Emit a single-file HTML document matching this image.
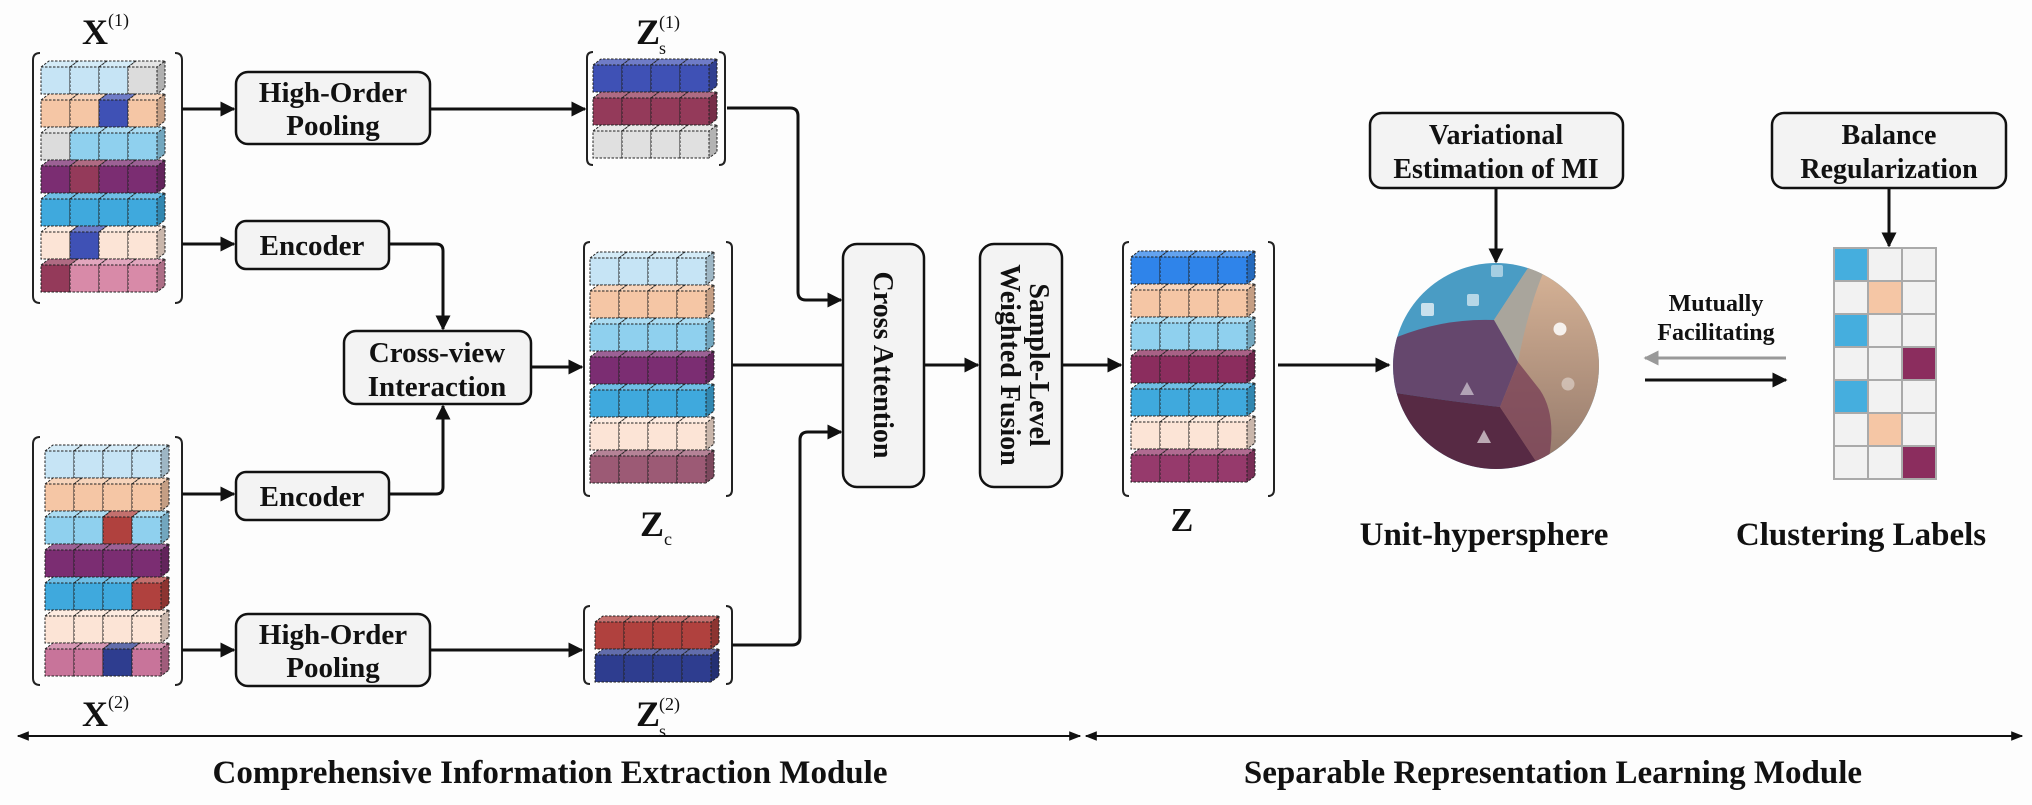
<!DOCTYPE html>
<html><head><meta charset="utf-8"><style>
html,body{margin:0;padding:0;background:#fdfdfd}
svg{display:block}
text{font-family:"Liberation Serif",serif;font-weight:bold;fill:#111}
text.n{font-weight:normal}
.box{fill:#f3f3f3;stroke:#111;stroke-width:2.5}
.ln{fill:none;stroke:#111;stroke-width:3}
.br{fill:none;stroke:#222;stroke-width:2}
</style></head><body>
<svg width="2032" height="805" viewBox="0 0 2032 805" xmlns="http://www.w3.org/2000/svg">
<defs>
<marker id="ah" viewBox="0 0 10 10" refX="9" refY="5" markerWidth="5" markerHeight="5" orient="auto" markerUnits="strokeWidth"><path d="M0,0 L10,5 L0,10 z" fill="#111"/></marker>
<marker id="ahg" viewBox="0 0 10 10" refX="9" refY="5" markerWidth="5" markerHeight="5" orient="auto" markerUnits="strokeWidth"><path d="M0,0 L10,5 L0,10 z" fill="#999"/></marker>
<marker id="ahs" viewBox="0 0 10 10" refX="9" refY="5" markerWidth="6" markerHeight="6" orient="auto" markerUnits="strokeWidth"><path d="M0,1 L10,5 L0,9 z" fill="#111"/></marker>
<g id="c">
<rect x="0" y="0" width="29" height="27" fill="currentColor"/>
<polygon points="0,0 8,-6 37,-6 29,0" fill="currentColor"/>
<polygon points="0,0 8,-6 37,-6 29,0" fill="#fff" opacity="0.25"/>
<polygon points="29,0 37,-6 37,21 29,27" fill="currentColor"/>
<polygon points="29,0 37,-6 37,21 29,27" fill="#000" opacity="0.2"/>
<path d="M0,0 H29 V27 H0 Z M0,0 L8,-6 H37 L29,0 M37,-6 V21 L29,27" fill="none" stroke="#222" stroke-width="1" stroke-dasharray="2.5,1.5"/>
</g>
</defs>

<text x="82" y="44" font-size="36">X</text><text class="n" x="108" y="26" font-size="18">(1)</text>
<text x="636" y="44" font-size="36">Z</text><text class="n" x="659" y="54" font-size="18">s</text><text class="n" x="659" y="28" font-size="18">(1)</text>

<path class="br" d="M40,53 Q33,53 33,60 V296 Q33,303 40,303 M175,53 Q182,53 182,60 V296 Q182,303 175,303"/>
<g transform="translate(41,67)">
<g color="#c6e4f5"><use href="#c" x="0" y="0"/><use href="#c" x="29" y="0"/><use href="#c" x="58" y="0"/></g><use href="#c" x="87" y="0" color="#dcdcdc"/>
<use href="#c" x="0" y="33" color="#f5c6a5"/><use href="#c" x="29" y="33" color="#f5c6a5"/><use href="#c" x="58" y="33" color="#3f51b5"/><use href="#c" x="87" y="33" color="#f5c6a5"/>
<use href="#c" x="0" y="66" color="#dcdcdc"/><g color="#8fd0ee"><use href="#c" x="29" y="66"/><use href="#c" x="58" y="66"/><use href="#c" x="87" y="66"/></g>
<use href="#c" x="0" y="99" color="#7b2d72"/><use href="#c" x="29" y="99" color="#943a5a"/><use href="#c" x="58" y="99" color="#7b2d72"/><use href="#c" x="87" y="99" color="#7b2d72"/>
<g color="#3fa9dd"><use href="#c" x="0" y="132"/><use href="#c" x="29" y="132"/><use href="#c" x="58" y="132"/><use href="#c" x="87" y="132"/></g>
<use href="#c" x="0" y="165" color="#fce4d6"/><use href="#c" x="29" y="165" color="#3f51b5"/><use href="#c" x="58" y="165" color="#fce4d6"/><use href="#c" x="87" y="165" color="#fce4d6"/>
<use href="#c" x="0" y="198" color="#943a5a"/><g color="#d88aa8"><use href="#c" x="29" y="198"/><use href="#c" x="58" y="198"/><use href="#c" x="87" y="198"/></g>
</g>

<path class="br" d="M40,437 Q33,437 33,444 V678 Q33,685 40,685 M175,437 Q182,437 182,444 V678 Q182,685 175,685"/>
<g transform="translate(45,451)">
<g color="#c6e4f5"><use href="#c" x="0" y="0"/><use href="#c" x="29" y="0"/><use href="#c" x="58" y="0"/><use href="#c" x="87" y="0"/></g>
<g color="#f5c6a5"><use href="#c" x="0" y="33"/><use href="#c" x="29" y="33"/><use href="#c" x="58" y="33"/><use href="#c" x="87" y="33"/></g>
<use href="#c" x="0" y="66" color="#8fd0ee"/><use href="#c" x="29" y="66" color="#8fd0ee"/><use href="#c" x="58" y="66" color="#b0413e"/><use href="#c" x="87" y="66" color="#8fd0ee"/>
<g color="#7b2d72"><use href="#c" x="0" y="99"/><use href="#c" x="29" y="99"/><use href="#c" x="58" y="99"/><use href="#c" x="87" y="99"/></g>
<use href="#c" x="0" y="132" color="#3fa9dd"/><use href="#c" x="29" y="132" color="#3fa9dd"/><use href="#c" x="58" y="132" color="#3fa9dd"/><use href="#c" x="87" y="132" color="#b0413e"/>
<g color="#fce4d6"><use href="#c" x="0" y="165"/><use href="#c" x="29" y="165"/><use href="#c" x="58" y="165"/><use href="#c" x="87" y="165"/></g>
<use href="#c" x="0" y="198" color="#c8749a"/><use href="#c" x="29" y="198" color="#c8749a"/><use href="#c" x="58" y="198" color="#2e3d8f"/><use href="#c" x="87" y="198" color="#c8749a"/>
</g>
<text x="82" y="726" font-size="36">X</text><text class="n" x="108" y="708" font-size="18">(2)</text>

<path class="br" d="M593,52 Q587,52 587,58 V159 Q587,165 593,165 M719,52 Q725,52 725,58 V159 Q725,165 719,165"/>
<g transform="translate(593,65)">
<g color="#3f51b5"><use href="#c" x="0" y="0"/><use href="#c" x="29" y="0"/><use href="#c" x="58" y="0"/><use href="#c" x="87" y="0"/></g>
<g color="#943a5a"><use href="#c" x="0" y="33"/><use href="#c" x="29" y="33"/><use href="#c" x="58" y="33"/><use href="#c" x="87" y="33"/></g>
<g color="#e0e0e0"><use href="#c" x="0" y="66"/><use href="#c" x="29" y="66"/><use href="#c" x="58" y="66"/><use href="#c" x="87" y="66"/></g>
</g>

<path class="br" d="M590,242 Q584,242 584,248 V490 Q584,496 590,496 M726,242 Q732,242 732,248 V490 Q732,496 726,496"/>
<g transform="translate(590,258)">
<g color="#c6e4f5"><use href="#c" x="0" y="0"/><use href="#c" x="29" y="0"/><use href="#c" x="58" y="0"/><use href="#c" x="87" y="0"/></g>
<g color="#f5c6a5"><use href="#c" x="0" y="33"/><use href="#c" x="29" y="33"/><use href="#c" x="58" y="33"/><use href="#c" x="87" y="33"/></g>
<g color="#8fd0ee"><use href="#c" x="0" y="66"/><use href="#c" x="29" y="66"/><use href="#c" x="58" y="66"/><use href="#c" x="87" y="66"/></g>
<g color="#7b2d72"><use href="#c" x="0" y="99"/><use href="#c" x="29" y="99"/><use href="#c" x="58" y="99"/><use href="#c" x="87" y="99"/></g>
<g color="#3fa9dd"><use href="#c" x="0" y="132"/><use href="#c" x="29" y="132"/><use href="#c" x="58" y="132"/><use href="#c" x="87" y="132"/></g>
<g color="#fce4d6"><use href="#c" x="0" y="165"/><use href="#c" x="29" y="165"/><use href="#c" x="58" y="165"/><use href="#c" x="87" y="165"/></g>
<g color="#9c5a75"><use href="#c" x="0" y="198"/><use href="#c" x="29" y="198"/><use href="#c" x="58" y="198"/><use href="#c" x="87" y="198"/></g>
</g>
<text x="640" y="536" font-size="36">Z</text><text class="n" x="664" y="545" font-size="18">c</text>

<path class="br" d="M590,606 Q584,606 584,612 V678 Q584,684 590,684 M726,606 Q732,606 732,612 V678 Q732,684 726,684"/>
<g transform="translate(595,622)">
<g color="#b0413e"><use href="#c" x="0" y="0"/><use href="#c" x="29" y="0"/><use href="#c" x="58" y="0"/><use href="#c" x="87" y="0"/></g>
<g color="#2e3d8f"><use href="#c" x="0" y="33"/><use href="#c" x="29" y="33"/><use href="#c" x="58" y="33"/><use href="#c" x="87" y="33"/></g>
</g>
<text x="636" y="726" font-size="36">Z</text><text class="n" x="659" y="737" font-size="18">s</text><text class="n" x="659" y="710" font-size="18">(2)</text>

<path class="br" d="M1129,242 Q1123,242 1123,248 V490 Q1123,496 1129,496 M1268,242 Q1274,242 1274,248 V490 Q1274,496 1268,496"/>
<g transform="translate(1131,257)">
<g color="#2f84ea"><use href="#c" x="0" y="0"/><use href="#c" x="29" y="0"/><use href="#c" x="58" y="0"/><use href="#c" x="87" y="0"/></g>
<g color="#f5c6a5"><use href="#c" x="0" y="33"/><use href="#c" x="29" y="33"/><use href="#c" x="58" y="33"/><use href="#c" x="87" y="33"/></g>
<g color="#8fd0ee"><use href="#c" x="0" y="66"/><use href="#c" x="29" y="66"/><use href="#c" x="58" y="66"/><use href="#c" x="87" y="66"/></g>
<g color="#8b2d5e"><use href="#c" x="0" y="99"/><use href="#c" x="29" y="99"/><use href="#c" x="58" y="99"/><use href="#c" x="87" y="99"/></g>
<g color="#3fa9dd"><use href="#c" x="0" y="132"/><use href="#c" x="29" y="132"/><use href="#c" x="58" y="132"/><use href="#c" x="87" y="132"/></g>
<g color="#fce4d6"><use href="#c" x="0" y="165"/><use href="#c" x="29" y="165"/><use href="#c" x="58" y="165"/><use href="#c" x="87" y="165"/></g>
<g color="#963a6c"><use href="#c" x="0" y="198"/><use href="#c" x="29" y="198"/><use href="#c" x="58" y="198"/><use href="#c" x="87" y="198"/></g>
</g>
<text x="1182" y="531" font-size="34" text-anchor="middle">Z</text>

<rect class="box" x="236" y="72" width="194" height="72" rx="12"/>
<text x="333" y="102" font-size="29" text-anchor="middle">High-Order</text>
<text x="333" y="135" font-size="29" text-anchor="middle">Pooling</text>
<rect class="box" x="236" y="221" width="153" height="48" rx="10"/>
<text x="312" y="255" font-size="29" text-anchor="middle">Encoder</text>
<rect class="box" x="344" y="331" width="187" height="73" rx="12"/>
<text x="437" y="362" font-size="29" text-anchor="middle">Cross-view</text>
<text x="437" y="396" font-size="29" text-anchor="middle">Interaction</text>
<rect class="box" x="236" y="472" width="153" height="48" rx="10"/>
<text x="312" y="506" font-size="29" text-anchor="middle">Encoder</text>
<rect class="box" x="236" y="614" width="194" height="72" rx="12"/>
<text x="333" y="644" font-size="29" text-anchor="middle">High-Order</text>
<text x="333" y="677" font-size="29" text-anchor="middle">Pooling</text>

<rect class="box" x="843" y="244" width="81" height="243" rx="14"/>
<text transform="translate(874,365) rotate(90)" font-size="28" text-anchor="middle">Cross Attention</text>
<rect class="box" x="980" y="244" width="82" height="243" rx="14"/>
<text transform="translate(1030,365) rotate(90)" font-size="28" text-anchor="middle">Sample-Level</text>
<text transform="translate(1001,365) rotate(90)" font-size="28" text-anchor="middle">Weighted Fusion</text>

<rect class="box" x="1370" y="113" width="253" height="75" rx="12"/>
<text x="1496" y="144" font-size="28" text-anchor="middle">Variational</text>
<text x="1496" y="178" font-size="28" text-anchor="middle">Estimation of MI</text>
<rect class="box" x="1772" y="113" width="234" height="75" rx="12"/>
<text x="1889" y="144" font-size="28" text-anchor="middle">Balance</text>
<text x="1889" y="178" font-size="28" text-anchor="middle">Regularization</text>

<path class="ln" d="M182,109 H234" marker-end="url(#ah)"/>
<path class="ln" d="M182,244 H234" marker-end="url(#ah)"/>
<path class="ln" d="M182,494 H234" marker-end="url(#ah)"/>
<path class="ln" d="M182,650 H234" marker-end="url(#ah)"/>
<path class="ln" d="M430,109 H585" marker-end="url(#ah)"/>
<path class="ln" d="M430,650 H582" marker-end="url(#ah)"/>
<path class="ln" d="M389,244 H436 Q443,244 443,251 V329" marker-end="url(#ah)"/>
<path class="ln" d="M389,494 H436 Q443,494 443,487 V406" marker-end="url(#ah)"/>
<path class="ln" d="M531,367 H582" marker-end="url(#ah)"/>
<path class="ln" d="M727,108 H790 Q798,108 798,116 V292 Q798,300 806,300 H841" marker-end="url(#ah)"/>
<path class="ln" d="M732,365 H843"/>
<path class="ln" d="M732,645 H792 Q800,645 800,637 V440 Q800,432 808,432 H841" marker-end="url(#ah)"/>
<path class="ln" d="M924,365 H978" marker-end="url(#ah)"/>
<path class="ln" d="M1062,365 H1121" marker-end="url(#ah)"/>
<path class="ln" d="M1278,365 H1389" marker-end="url(#ah)"/>
<path class="ln" d="M1496,188 V262" marker-end="url(#ah)"/>
<path class="ln" d="M1889,188 V246" marker-end="url(#ah)"/>

<defs><clipPath id="sp"><circle cx="1496" cy="366" r="103"/></clipPath>
<linearGradient id="pg" x1="0" y1="0" x2="0" y2="1"><stop offset="0" stop-color="#d8b497"/><stop offset="1" stop-color="#8f7568"/></linearGradient></defs>
<g clip-path="url(#sp)">
<rect x="1390" y="260" width="210" height="215" fill="#4a9cc4"/>
<path d="M1532,262 L1494,320 L1518,362 L1495,410 L1540,480 L1605,480 L1605,262 Z" fill="url(#pg)"/>
<path d="M1532,262 L1548,262 Q1530,300 1518,362 L1494,320 Z" fill="#a9a59c"/>
<path d="M1390,340 Q1440,318 1494,320 L1518,362 L1500,407 Q1440,400 1390,392 Z" fill="#65476d"/>
<path d="M1390,392 Q1440,400 1500,407 L1545,475 L1390,475 Z" fill="#572a44"/>
<path d="M1518,362 L1500,407 L1545,475 Q1560,420 1540,390 Z" fill="#7a4258" opacity="0.8"/>
<rect x="1491" y="265" width="12" height="12" rx="2" fill="#fff" opacity="0.5"/>
<rect x="1467" y="294" width="12" height="12" rx="2" fill="#fff" opacity="0.6"/>
<rect x="1421" y="303" width="13" height="13" rx="2" fill="#fff" opacity="0.7"/>
<circle cx="1560" cy="329" r="6.5" fill="#fff" opacity="0.85"/>
<circle cx="1568" cy="384" r="6.5" fill="#fff" opacity="0.4"/>
<polygon points="1467,382 1474,395 1460,395" fill="#fff" opacity="0.5"/>
<polygon points="1484,430 1491,443 1477,443" fill="#fff" opacity="0.6"/>
</g>

<text x="1716" y="311" font-size="24" text-anchor="middle">Mutually</text>
<text x="1716" y="340" font-size="24" text-anchor="middle">Facilitating</text>
<path d="M1786,358 H1645" stroke="#999" stroke-width="3" fill="none" marker-end="url(#ahg)"/>
<path d="M1645,380 H1786" class="ln" marker-end="url(#ah)"/>

<g stroke="#aaa" stroke-width="2">
<rect x="1834" y="248" width="34" height="33" fill="#45aede"/><rect x="1868" y="248" width="34" height="33" fill="#f2f2f2"/><rect x="1902" y="248" width="34" height="33" fill="#f2f2f2"/>
<rect x="1834" y="281" width="34" height="33" fill="#f2f2f2"/><rect x="1868" y="281" width="34" height="33" fill="#f5c6a5"/><rect x="1902" y="281" width="34" height="33" fill="#f2f2f2"/>
<rect x="1834" y="314" width="34" height="33" fill="#45aede"/><rect x="1868" y="314" width="34" height="33" fill="#f2f2f2"/><rect x="1902" y="314" width="34" height="33" fill="#f2f2f2"/>
<rect x="1834" y="347" width="34" height="33" fill="#f2f2f2"/><rect x="1868" y="347" width="34" height="33" fill="#f2f2f2"/><rect x="1902" y="347" width="34" height="33" fill="#8b2d5e"/>
<rect x="1834" y="380" width="34" height="33" fill="#45aede"/><rect x="1868" y="380" width="34" height="33" fill="#f2f2f2"/><rect x="1902" y="380" width="34" height="33" fill="#f2f2f2"/>
<rect x="1834" y="413" width="34" height="33" fill="#f2f2f2"/><rect x="1868" y="413" width="34" height="33" fill="#f5c6a5"/><rect x="1902" y="413" width="34" height="33" fill="#f2f2f2"/>
<rect x="1834" y="446" width="34" height="33" fill="#f2f2f2"/><rect x="1868" y="446" width="34" height="33" fill="#f2f2f2"/><rect x="1902" y="446" width="34" height="33" fill="#8b2d5e"/>
</g>

<text x="1484" y="545" font-size="33" text-anchor="middle">Unit-hypersphere</text>
<text x="1861" y="545" font-size="33" text-anchor="middle">Clustering Labels</text>

<path d="M1080,736 H18" stroke="#111" stroke-width="2" fill="none" marker-end="url(#ahs)"/>
<path d="M18,736 H1080" stroke="#111" stroke-width="2" fill="none" marker-end="url(#ahs)"/>
<path d="M2022,736 H1086" stroke="#111" stroke-width="2" fill="none" marker-end="url(#ahs)"/>
<path d="M1086,736 H2022" stroke="#111" stroke-width="2" fill="none" marker-end="url(#ahs)"/>
<text x="550" y="783" font-size="33" text-anchor="middle">Comprehensive Information Extraction Module</text>
<text x="1553" y="783" font-size="33" text-anchor="middle">Separable Representation Learning Module</text>
</svg>
</body></html>
